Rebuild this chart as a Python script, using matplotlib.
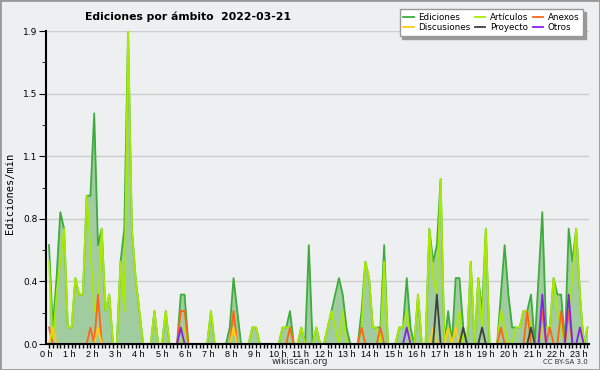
import numpy as np
import matplotlib
matplotlib.use('Agg')
import matplotlib.pyplot as plt
from matplotlib.patches import Rectangle

# edits per minute, one value per 10-minute slot (144 slots, 0:00 .. 23:50)
ediciones = [
    0.6, 0.1, 0.4, 0.8, 0.7, 0.1, 0.1, 0.4, 0.3, 0.3, 0.9, 0.9,
    1.4, 0.6, 0.7, 0.2, 0.3, 0.0, 0.0, 0.5, 0.7, 1.9, 0.7, 0.4,
    0.2, 0.0, 0.0, 0.0, 0.2, 0.0, 0.0, 0.2, 0.0, 0.0, 0.0, 0.3,
    0.3, 0.0, 0.0, 0.0, 0.0, 0.0, 0.0, 0.2, 0.0, 0.0, 0.0, 0.0,
    0.1, 0.4, 0.2, 0.0, 0.0, 0.0, 0.1, 0.1, 0.0, 0.0, 0.0, 0.0,
    0.0, 0.0, 0.1, 0.1, 0.2, 0.0, 0.0, 0.1, 0.0, 0.6, 0.0, 0.1,
    0.0, 0.0, 0.1, 0.2, 0.3, 0.4, 0.3, 0.1, 0.0, 0.0, 0.0, 0.2,
    0.5, 0.4, 0.1, 0.1, 0.1, 0.6, 0.0, 0.0, 0.0, 0.1, 0.1, 0.4,
    0.1, 0.0, 0.3, 0.0, 0.0, 0.7, 0.5, 0.6, 1.0, 0.0, 0.2, 0.0,
    0.4, 0.4, 0.1, 0.0, 0.5, 0.0, 0.4, 0.2, 0.7, 0.0, 0.0, 0.0,
    0.3, 0.6, 0.3, 0.1, 0.1, 0.1, 0.2, 0.2, 0.3, 0.0, 0.4, 0.8,
    0.1, 0.1, 0.4, 0.3, 0.3, 0.0, 0.7, 0.5, 0.7, 0.3, 0.0, 0.1,
]
articulos = [
    0.5, 0.0, 0.3, 0.5, 0.7, 0.1, 0.1, 0.4, 0.3, 0.3, 0.9, 0.6,
    0.2, 0.2, 0.7, 0.2, 0.3, 0.0, 0.0, 0.5, 0.2, 1.9, 0.7, 0.4,
    0.2, 0.0, 0.0, 0.0, 0.2, 0.0, 0.0, 0.2, 0.0, 0.0, 0.0, 0.0,
    0.1, 0.0, 0.0, 0.0, 0.0, 0.0, 0.0, 0.2, 0.0, 0.0, 0.0, 0.0,
    0.0, 0.1, 0.0, 0.0, 0.0, 0.0, 0.1, 0.1, 0.0, 0.0, 0.0, 0.0,
    0.0, 0.0, 0.1, 0.1, 0.1, 0.0, 0.0, 0.1, 0.0, 0.0, 0.0, 0.1,
    0.0, 0.0, 0.1, 0.2, 0.1, 0.0, 0.2, 0.0, 0.0, 0.0, 0.0, 0.1,
    0.5, 0.4, 0.1, 0.1, 0.0, 0.5, 0.0, 0.0, 0.0, 0.1, 0.1, 0.2,
    0.0, 0.0, 0.3, 0.0, 0.0, 0.7, 0.4, 0.3, 1.0, 0.0, 0.1, 0.0,
    0.1, 0.2, 0.0, 0.0, 0.5, 0.0, 0.4, 0.1, 0.7, 0.0, 0.0, 0.0,
    0.2, 0.1, 0.0, 0.0, 0.1, 0.1, 0.2, 0.2, 0.1, 0.0, 0.0, 0.1,
    0.1, 0.1, 0.4, 0.2, 0.1, 0.0, 0.2, 0.4, 0.7, 0.3, 0.0, 0.1,
]
# sparse series: slot index -> value
anexos_slots = [0, 11, 13, 35, 36, 49, 64, 83, 88, 120, 127, 131, 133, 136, 138]
anexos_vals = [0.1, 0.1, 0.3, 0.2, 0.2, 0.2, 0.1, 0.1, 0.1, 0.1, 0.2, 0.2, 0.1, 0.2, 0.2]
discusiones_slots = [1, 13, 49, 102, 106, 108]
discusiones_vals = [0.1, 0.1, 0.1, 0.1, 0.1, 0.1]
proyecto_slots = [103, 110, 115, 128]
proyecto_vals = [0.3, 0.1, 0.1, 0.1]
otros_slots = [35, 95, 131, 138, 141]
otros_vals = [0.1, 0.1, 0.3, 0.3, 0.1]

hours = list(range(24))
date = '2022-03-21'

n = len(ediciones)
x = np.arange(n)

def spread(slots, vals):
    a = np.zeros(n)
    a[slots] = vals
    return a

series = [
    ('Ediciones', np.array(ediciones), '#3cac3c'),
    ('Artículos', np.array(articulos), '#aaea00'),
    ('Anexos', spread(anexos_slots, anexos_vals), '#ff6418'),
    ('Discusiones', spread(discusiones_slots, discusiones_vals), '#ffcc1a'),
    ('Proyecto', spread(proyecto_slots, proyecto_vals), '#404040'),
    ('Otros', spread(otros_slots, otros_vals), '#8a1ef0'),
]

bg = '#eeeff0'
fig = plt.figure(figsize=(6, 3.7), dpi=100, facecolor=bg)
ax = fig.add_axes([46/600, 1-344/370, 543/600, 313/370])
ax.set_facecolor(bg)

ax.fill_between(x, 0, series[0][1], color='#a0cca0', lw=0, zorder=1)
handles = {}
for name, vals, col in series:
    handles[name], = ax.plot(x, vals, color=col, lw=1.3, label=name, zorder=2)

ax.set_xlim(-0.6, n - 0.6)
ax.set_ylim(0, 1.9)
yt = np.linspace(0, 1.9, 6)
ax.set_yticks(yt)
ax.set_yticklabels(['%.1f' % v for v in yt])
ax.set_yticks((yt[:-1] + yt[1:]) / 2, minor=True)
ax.yaxis.grid(True, color='#cccccc', lw=1)
ax.set_axisbelow(True)

# hour labels sit on a slightly wider spacing than the 10-min ticks
ax.set_xticks([6.15*h - 0.8 for h in hours])
ax.set_xticklabels(['%d h' % h for h in hours], family='Liberation Sans')
ax.set_xticks(x, minor=True)

for s in ['top', 'right']:
    ax.spines[s].set_visible(False)
for s in ['left', 'bottom']:
    ax.spines[s].set_linewidth(1.5)
    ax.spines[s].set_zorder(3)

ax.tick_params(axis='x', which='major', length=0, labelsize=6.5, pad=4)
ax.tick_params(axis='x', which='minor', length=3, width=1)
ax.tick_params(axis='y', which='major', length=5, labelsize=6.5, pad=1)
ax.tick_params(axis='y', which='minor', length=3)

order = ['Ediciones', 'Discusiones', 'Artículos', 'Proyecto', 'Anexos', 'Otros']
fig.legend([handles[k] for k in order], order, loc='upper right',
           bbox_to_anchor=(583/600, 1-9/370), ncol=3, fontsize=6.3,
           frameon=True, fancybox=False, edgecolor='#999999', framealpha=1,
           shadow={'color': '#999999', 'alpha': 1}, handlelength=1.2,
           handletextpad=0.5, columnspacing=0.5, labelspacing=0.15,
           borderpad=0.45, borderaxespad=0)

fig.text(85/600, 1-17/370, 'Ediciones por ámbito  ' + date, fontweight='bold',
         fontsize=7.8, ha='left', va='center')
fig.text(10/600, 1-193/370, 'Ediciones/min', rotation=90, family='DejaVu Sans Mono',
         fontsize=7.5, ha='center', va='center')
fig.text(0.5, 1-362/370, 'wikiscan.org', ha='center', va='center', fontsize=6.5, color='#333333')
fig.text(565/600, 1-362/370, 'CC BY-SA 3.0', ha='center', va='center', fontsize=5, color='#333333')

fig.patches.append(Rectangle((0, 0), 1, 1, transform=fig.transFigure, fill=False,
                             edgecolor='#999999', lw=2))

fig.savefig('out.png', dpi=100, facecolor=fig.get_facecolor())
